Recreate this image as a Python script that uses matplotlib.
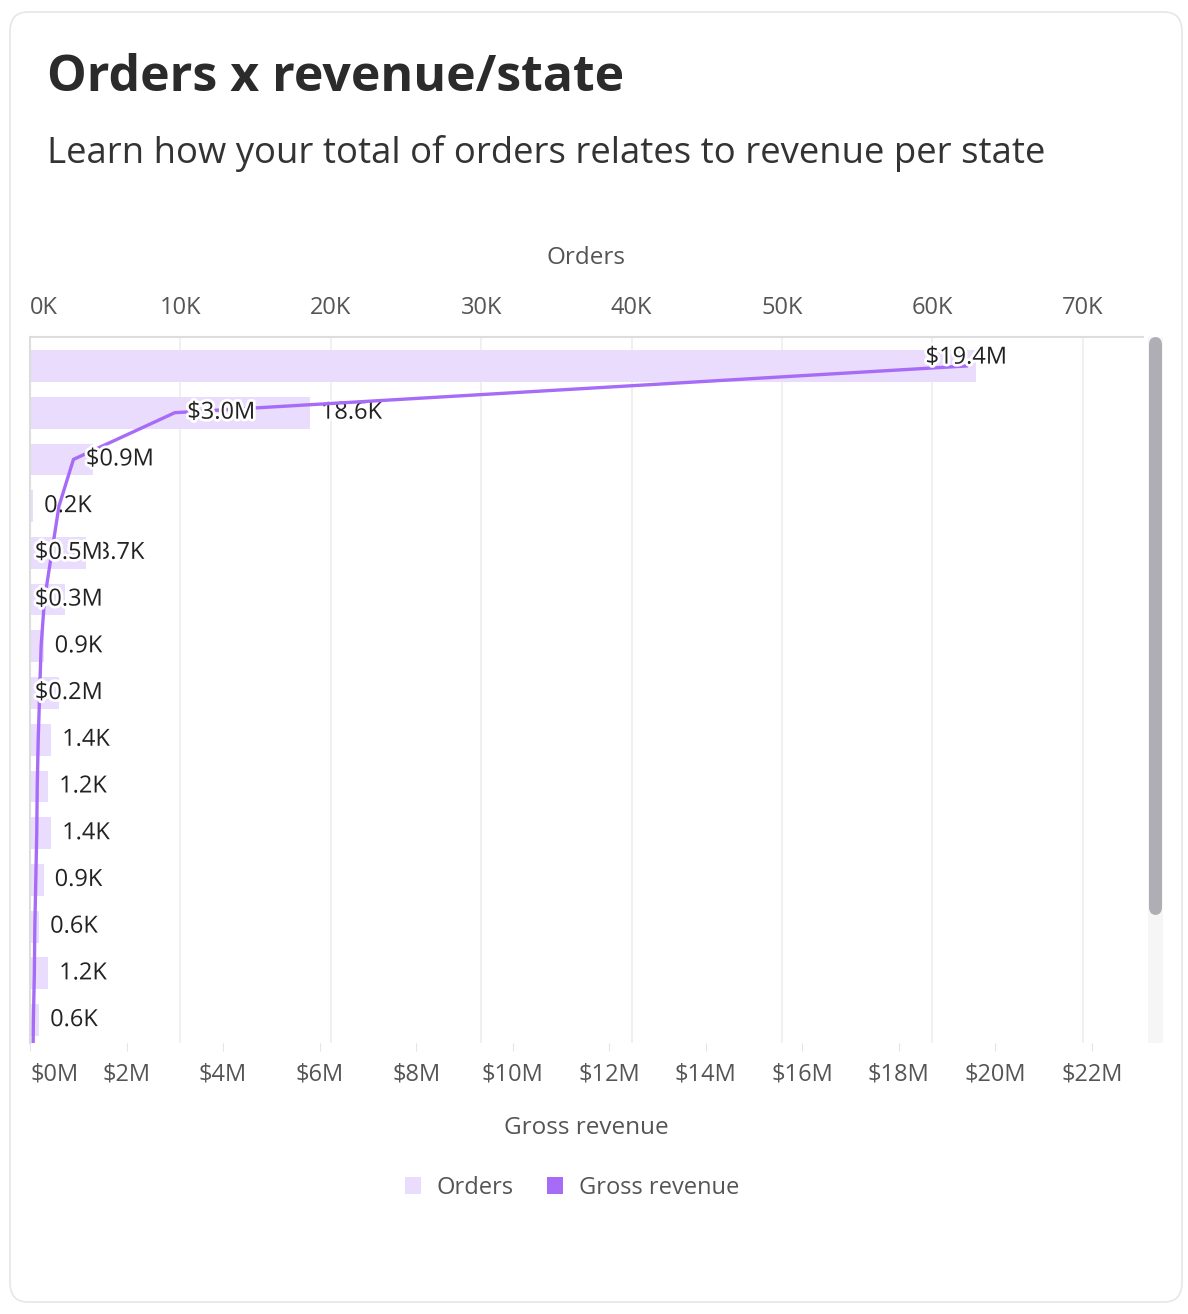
import matplotlib.pyplot as plt
import matplotlib.patheffects as pe
from matplotlib.patches import FancyBboxPatch, Patch

# datos por estado (solo las filas visibles, la ultima queda fuera de la ventana)
orders_k = [62.9, 18.6, 4.2, 0.2, 3.7, 2.3, 0.9, 1.9, 1.4, 1.2, 1.4, 0.9, 0.6, 1.2, 0.6, 0.6]
revenue_m = [19.4, 3.0, 0.9, 0.6, 0.45, 0.3, 0.23, 0.2, 0.17, 0.15, 0.14, 0.12, 0.1, 0.09, 0.07, 0.06]
# que etiqueta se ve en cada fila
show_rev = [1, 1, 1, 0, 1, 1, 0, 1, 0, 0, 0, 0, 0, 0, 0, 0]
show_ord = [0, 1, 0, 1, 1, 0, 1, 0, 1, 1, 1, 1, 1, 1, 1, 0]

orders_ticks = [0, 10, 20, 30, 40, 50, 60, 70]
revenue_ticks = [0, 2, 4, 6, 8, 10, 12, 14, 16, 18, 20, 22]

bar_color = "#EADCFD"
line_color = "#A66CF7"
txt_gray = "#555555"
font = "Open Sans"
plt.rcParams["font.family"] = [font, "DejaVu Sans"]

fig = plt.figure(figsize=(11.88, 13.14), dpi=100)
fig.patch.set_facecolor("white")

# tarjeta
card = FancyBboxPatch((10 / 1188, 1 - 1302 / 1314), 1172 / 1188, 1290 / 1314,
                      boxstyle="round,pad=0,rounding_size=0.015", transform=fig.transFigure,
                      facecolor="white", edgecolor="#E6E6E6", linewidth=1.2, zorder=-5)
fig.patches.append(card)

fig.text(47 / 1188, 1 - 78 / 1314, "Orders x revenue/state", fontsize=36, fontweight="bold",
         color="#2B2B2B", va="center", ha="left")
fig.text(47 / 1188, 1 - 153 / 1314, "Learn how your total of orders relates to revenue per state",
         fontsize=26.3, color="#333333", va="center", ha="left")

left, right, top, bottom = 30 / 1188, 1143 / 1188, 1 - 337 / 1314, 1 - 1043 / 1314
ax = fig.add_axes([left, bottom, right - left, top - bottom])
ax2 = ax.twiny()

y = list(range(len(orders_k)))
ax.barh(y, orders_k, height=0.68, color=bar_color, zorder=2)
ax.set_xlim(0, 74)
ax.set_ylim(14.49, -0.62)
ax.set_xticks(orders_ticks, [f"{v}K" for v in orders_ticks])
ax.xaxis.set_ticks_position("top")
ax.xaxis.set_label_position("top")
ax.set_xlabel("Orders", fontsize=17.5, color=txt_gray, labelpad=23)
ax.tick_params(axis="x", length=0, pad=12, labelsize=17, labelcolor=txt_gray)
ax.set_yticks([])
ax.grid(axis="x", color="#EEEEEE", linewidth=1.2, zorder=0)
ax.set_axisbelow(True)
for s in ["right", "bottom"]:
    ax.spines[s].set_visible(False)
ax.spines["top"].set_color("#DDDDDD")
ax.spines["top"].set_linewidth(1.5)
ax.spines["left"].set_color("#DDDDDD")
ax.spines["left"].set_linewidth(1.5)

ax2.plot(revenue_m, y, color=line_color, linewidth=2.4, zorder=3, solid_joinstyle="round")
ax2.set_xlim(0, 23.06)
ax2.set_xticks(revenue_ticks, [f"${v}M" for v in revenue_ticks])
ax2.xaxis.set_ticks_position("bottom")
ax2.xaxis.set_label_position("bottom")
ax2.set_xlabel("Gross revenue", fontsize=17.5, color=txt_gray, labelpad=21)
ax2.tick_params(axis="x", length=6, color="#E4E4E4", pad=8, labelsize=17, labelcolor=txt_gray)
for s in ax2.spines.values():
    s.set_visible(False)
ax.get_xticklabels()[0].set_horizontalalignment("left")
ax2.get_xticklabels()[0].set_horizontalalignment("left")

halo = [pe.withStroke(linewidth=4, foreground="white")]
for i in y:
    if i > 14:
        continue
    if show_ord[i]:
        ax.annotate(f"{orders_k[i]:.1f}K", (orders_k[i], i), xytext=(8, 0), textcoords="offset points",
                    ha="left", va="center", fontsize=17, color="#222222", path_effects=halo, zorder=5)
    if show_rev[i]:
        lab = f"${revenue_m[i]:.1f}M"
        if i == 0:
            ax2.annotate(lab, (revenue_m[i], i), xytext=(0, 6), textcoords="offset points",
                         ha="center", va="center", fontsize=17, color="#222222", path_effects=halo, zorder=6)
        elif revenue_m[i] < 0.6:
            ax2.annotate(lab, (0, i), xytext=(3.5, 0), textcoords="offset points",
                         ha="left", va="center", fontsize=17, color="#222222", path_effects=halo, zorder=6)
        else:
            ax2.annotate(lab, (revenue_m[i], i), xytext=(9, 0), textcoords="offset points",
                         ha="left", va="center", fontsize=17, color="#222222", path_effects=halo, zorder=6)

# barra de desplazamiento
track = FancyBboxPatch((1148 / 1188, bottom), 15 / 1188, top - bottom, boxstyle="square,pad=0",
                       transform=fig.transFigure, facecolor="#F6F6F6", edgecolor="none")
thumb = FancyBboxPatch((1149 / 1188, 1 - 915 / 1314), 13 / 1188, 578 / 1314,
                       boxstyle="round,pad=0,rounding_size=0.006", transform=fig.transFigure,
                       facecolor="#AEAEB4", edgecolor="none")
fig.patches.extend([track, thumb])

handles = [Patch(facecolor=bar_color, edgecolor="none", label="Orders"),
           Patch(facecolor=line_color, edgecolor="none", label="Gross revenue")]
fig.legend(handles=handles, loc="center", bbox_to_anchor=(0.4815, 1 - 1188 / 1314), ncol=2,
           frameon=False, fontsize=17, labelcolor=txt_gray, handlelength=0.7, handleheight=0.7,
           columnspacing=1.4, handletextpad=0.66)

fig.savefig("out.png", dpi=100)
